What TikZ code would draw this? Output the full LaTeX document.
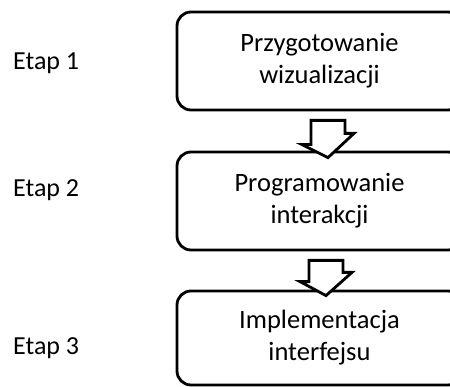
\documentclass[tikz,border=0pt]{standalone}
\usepackage{fontspec}
\setmainfont{Carlito}
\usetikzlibrary{calc}

\begin{document}
\begin{tikzpicture}[x=1pt, y=1pt,
    stage/.style={draw, line width=2.8pt, rounded corners=14pt, minimum width=285pt,
      minimum height=98pt, align=center, inner sep=0pt,
      font=\fontsize{26.5}{32}\selectfont},
    etap/.style={anchor=west, inner sep=0pt, font=\fontsize{26}{30}\selectfont},
    flow/.style={draw, line width=2.8pt, fill=white, line join=miter}]
  \useasboundingbox (0, 0) rectangle (450, 386);

  % etapy
  \node[stage] (prep) at (319.5, 325) {Przygotowanie\\wizualizacji};
  \node[stage] (prog) at (319.5, 185) {Programowanie\\interakcji};
  \node[stage, minimum height=94pt] (impl) at (319.5, 48) {Implementacja\\interfejsu};

  % podpisy
  \node[etap] (e1) at (13, 323) {Etap 1};
  \node[etap] (e2) at (13, 196) {Etap 2};
  \node[etap] (e3) at (13, 38) {Etap 3};

  % strzalki
  \coordinate (a1) at ($(prep.south)+(8.5,-9)$);
  \coordinate (a2) at ($(prog.south)+(6.5,-9)$);
  \draw[flow] (a1) ++(-17,0) -- ++(34,0) -- ++(0,-13) -- ++(9,0) -- ($(prog.north)+(8.5,-7)$)
    -- ++(-26,13) -- ++(9,0) -- cycle;
  \draw[flow] (a2) ++(-17,0) -- ++(34,0) -- ++(0,-12) -- ++(9,0) -- ($(impl.north)+(6.5,-6)$)
    -- ++(-26,14) -- ++(9,0) -- cycle;

\end{tikzpicture}
\end{document}
